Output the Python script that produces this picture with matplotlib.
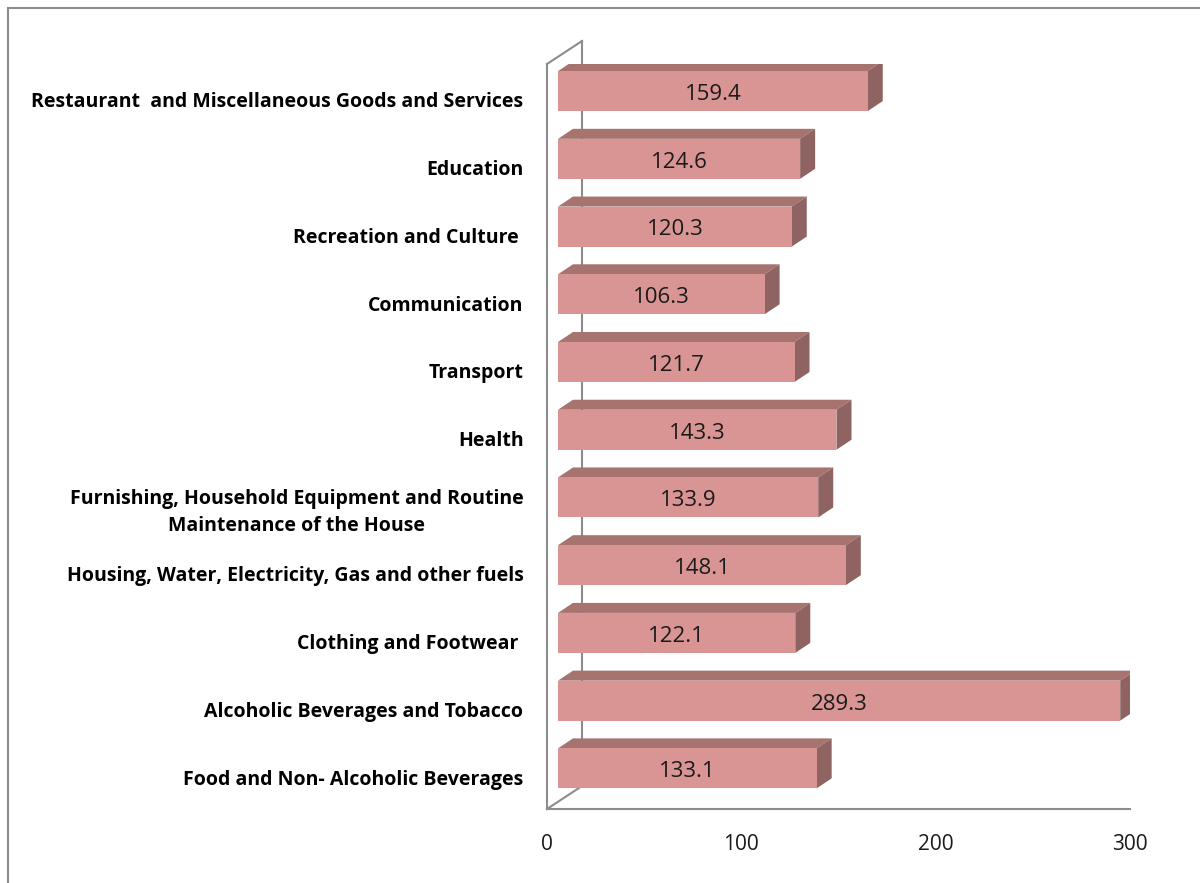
import numpy as np
import matplotlib.pyplot as plt
from matplotlib.patches import Polygon, Rectangle

## data (bottom to top, as drawn) ##
categories = [
    "Food and Non- Alcoholic Beverages",
    "Alcoholic Beverages and Tobacco",
    "Clothing and Footwear ",
    "Housing, Water, Electricity, Gas and other fuels",
    "Furnishing, Household Equipment and Routine\nMaintenance of the House",
    "Health",
    "Transport",
    "Communication",
    "Recreation and Culture ",
    "Education",
    "Restaurant  and Miscellaneous Goods and Services",
]
values = [133.1, 289.3, 122.1, 148.1, 133.9, 143.3, 121.7, 106.3, 120.3, 124.6, 159.4]
xticks = [0, 100, 200, 300]

front_col = "#D99594"
top_col = "#A6736F"
side_col = "#8F6361"
line_col = "#8C8C8C"

W, H = 1200, 883
fig = plt.figure(figsize=(W / 100, H / 100), dpi=100)

# outer chart border (right / bottom edges fall outside the picture)
fig.patches.append(Rectangle((8 / W, -0.1), 1.2, 1 - 8 / H + 0.1, transform=fig.transFigure,
                             fill=False, edgecolor=line_col, lw=1.5))

# plot area: front floor edge from px 547 to 1130, front wall from y=64 to 809
ax = fig.add_axes([547 / W, (H - 809) / H, (1130 - 547) / W, (809 - 64) / H])
ax.set_xlim(0, 300)
ax.set_ylim(-0.6, 10.4)

pxx = (1130 - 547) / 300.0       # pixels per value unit
pxy = 67.75                       # pixels per category

# wall depth and bar depth, converted to data units
wdx, wdy = 35 / pxx, 23 / pxy
bdx, bdy = 15 / pxx, 10 / pxy
x0 = 11 / pxx                     # bars sit a bit behind the front edge
bh = 40 / pxy

# 3d frame: side wall and floor
for s in ["top", "right"]:
    ax.spines[s].set_visible(False)
for s in ["left", "bottom"]:
    ax.spines[s].set_color(line_col)
    ax.spines[s].set_linewidth(1.5)
ax.plot([wdx, wdx], [-0.6 + wdy, 10.4 + wdy], color=line_col, lw=1.5, clip_on=False, zorder=1)
ax.plot([0, wdx], [10.4, 10.4 + wdy], color=line_col, lw=1.5, clip_on=False, zorder=1)
ax.plot([0, wdx], [-0.6, -0.6 + wdy], color=line_col, lw=1.5, clip_on=False, zorder=1)

y = np.arange(len(categories))
ax.barh(y, values, height=bh, left=x0, color=front_col, zorder=3)
for yi, v in zip(y, values):
    x1 = x0 + v
    top = [(x0, yi + bh / 2), (x1, yi + bh / 2), (x1 + bdx, yi + bh / 2 + bdy), (x0 + bdx, yi + bh / 2 + bdy)]
    side = [(x1, yi - bh / 2), (x1 + bdx, yi - bh / 2 + bdy), (x1 + bdx, yi + bh / 2 + bdy), (x1, yi + bh / 2)]
    ax.add_patch(Polygon(top, closed=True, facecolor=top_col, edgecolor="none", zorder=2))
    ax.add_patch(Polygon(side, closed=True, facecolor=side_col, edgecolor="none", zorder=2))
    ax.text(x0 + v / 2, yi - 0.05, f"{v:.1f}", ha="center", va="center", fontsize=16,
            family="Open Sans", color="#1a1a1a", zorder=4)

ax.set_yticks(y - 0.13)
ax.set_yticklabels(categories, fontsize=14, fontweight="bold", family="Open Sans",
                   multialignment="center", linespacing=1.45)
ax.tick_params(axis="y", length=0, pad=17)
ax.set_xticks(xticks)
ax.set_xticklabels([str(t) for t in xticks], fontsize=15, family="Open Sans", color="#1a1a1a")
ax.tick_params(axis="x", length=0, pad=18)

fig.savefig("out.png", dpi=100)
